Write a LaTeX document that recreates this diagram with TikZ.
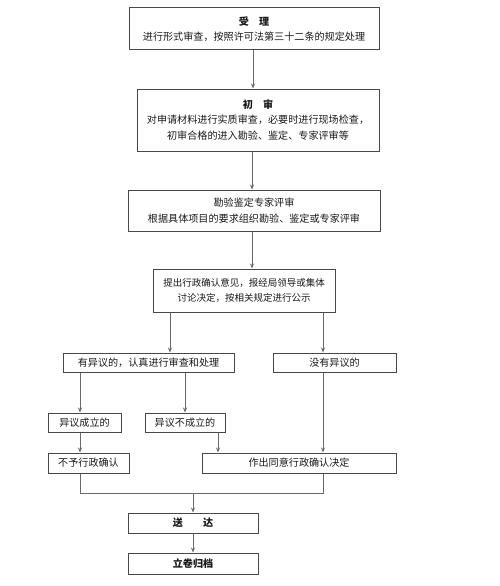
\documentclass[tikz,border=0pt]{standalone}
\usepackage{fontspec}
\setmainfont{Noto Sans CJK SC}
\usetikzlibrary{arrows.meta}
\definecolor{boxc}{HTML}{484848}
\definecolor{linec}{HTML}{6A6A6A}
\definecolor{txtc}{HTML}{1A1A1A}
\tikzset{
  box/.style={draw=boxc, line width=1pt, inner sep=0pt, text=txtc, align=center,
    font=\fontsize{10.1}{16.5}\selectfont},
  arr/.style={draw=linec, line width=0.9pt, -{Stealth[length=5pt,width=4pt]}},
  ln/.style={draw=linec, line width=0.9pt},
}
\begin{document}
\begin{tikzpicture}[x=1pt,y=-1pt]
\useasboundingbox (0,0) rectangle (499,586);
\fill[white] (0,0) rectangle (499,586);
\node[box, minimum width=250pt, minimum height=42pt] (a) at (254,29)
  {\textbf{受\quad 理}\\[-2pt]进行形式审查，按照许可法第三十二条的规定处理};
\node[box, minimum width=242pt, minimum height=62pt] (b) at (258,120)
  {\textbf{初\quad 审}\\[-1pt]对申请材料进行实质审查，必要时进行现场检查，\\[-1pt]初审合格的进入勘验、鉴定、专家评审等};
\node[box, minimum width=252pt, minimum height=41pt] (c) at (254,210.5)
  {勘验鉴定专家评审\\[-1pt]根据具体项目的要求组织勘验、鉴定或专家评审};
\node[box, minimum width=182pt, minimum height=43pt, font=\fontsize{9.5}{16.5}\selectfont] (d) at (244,290.5)
  {提出行政确认意见，报经局领导或集体\\[-1pt]讨论决定，按相关规定进行公示};
\node[box, minimum width=171pt, minimum height=19pt] (e) at (148.5,362.5) {有异议的，认真进行审查和处理};
\node[box, minimum width=123pt, minimum height=19pt] (f) at (334.5,362.5) {没有异议的};
\node[box, minimum width=73pt, minimum height=19pt] (g) at (84.5,422.5) {异议成立的};
\node[box, minimum width=80pt, minimum height=19pt] (h) at (185,422.5) {异议不成立的};
\node[box, minimum width=81pt, minimum height=20pt] (i) at (88.5,463) {不予行政确认};
\node[box, minimum width=194pt, minimum height=20pt] (j) at (299,463) {作出同意行政确认决定};
\node[box, minimum width=130pt, minimum height=20pt] (k) at (193,523) {\textbf{送\qquad 达}};
\node[box, minimum width=130pt, minimum height=21pt] (l) at (193,563.5) {\textbf{立卷归档}};
\coordinate (x80) at (80,0);
\coordinate (x170) at (170,0);
\coordinate (x218) at (218,0);
\coordinate (x323) at (323,0);
\coordinate (x253) at (253,0);
\coordinate (x252) at (252,0);
\coordinate (jn) at (193,493);
\draw[arr] (x253 |- a.south) -- (x253 |- b.north);
\draw[arr] (x252 |- b.south) -- (x252 |- c.north);
\draw[arr] (x252 |- c.south) -- (x252 |- d.north);
\draw[arr] (x170 |- d.south) -- (x170 |- e.north);
\draw[arr] (x323 |- d.south) -- (x323 |- f.north);
\draw[arr] (x80 |- e.south) -- (x80 |- g.north);
\draw[arr] (h |- e.south) -- (h.north);
\draw[arr] (x80 |- g.south) -- (x80 |- i.north);
\draw[arr] (x218 |- h.south) -- (x218 |- j.north);
\draw[arr] (x323 |- f.south) -- (x323 |- j.north);
\draw[ln] (x80 |- i.south) -- (x80 |- jn) -- (x323 |- jn) -- (x323 |- j.south);
\draw[arr] (jn) -- (k.north);
\draw[arr] (k.south) -- (l.north);
\end{tikzpicture}
\end{document}
